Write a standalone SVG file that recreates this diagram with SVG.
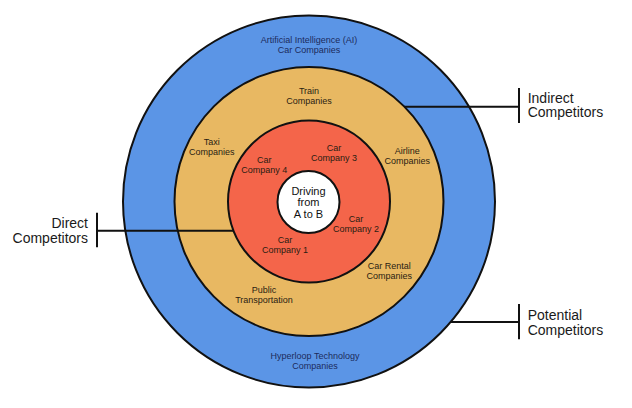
<svg xmlns="http://www.w3.org/2000/svg" width="632" height="408" viewBox="0 0 632 408">
<style>
.ring{stroke:#111;stroke-width:2}
.t{font-family:"Liberation Sans",Arial,sans-serif;font-size:9px;text-anchor:middle;fill:#2a1d12}
.tb{font-family:"Liberation Sans",Arial,sans-serif;font-size:9px;text-anchor:middle;fill:#1c2b5c}
.tc{font-family:"Liberation Sans",Arial,sans-serif;font-size:11px;text-anchor:middle;fill:#111}
.lab{font-family:"Liberation Sans",Arial,sans-serif;font-size:14px;fill:#1a1a1a}
.ln{stroke:#111;stroke-width:2;fill:none}
</style>
<rect width="632" height="408" fill="#fff"/>
<g id="potential">
<circle class="ring" cx="309" cy="201.5" r="186" fill="#5b95e6"/>
<text class="tb" x="309" y="42.7">Artificial Intelligence (AI)</text>
<text class="tb" x="309" y="52.7">Car Companies</text>
<text class="tb" x="315" y="359.3">Hyperloop Technology</text>
<text class="tb" x="315" y="369">Companies</text>
</g>
<g id="indirect">
<circle class="ring" cx="309" cy="201.5" r="134.5" fill="#e8b862"/>
<text class="t" x="309" y="94.3">Train</text>
<text class="t" x="309" y="104.3">Companies</text>
<text class="t" x="211.7" y="145">Taxi</text>
<text class="t" x="211.7" y="155">Companies</text>
<text class="t" x="407.3" y="154">Airline</text>
<text class="t" x="407.3" y="164">Companies</text>
<text class="t" x="389.3" y="269.3">Car Rental</text>
<text class="t" x="389.3" y="278.8">Companies</text>
<text class="t" x="264" y="293.3">Public</text>
<text class="t" x="264" y="302.7">Transportation</text>
</g>
<g id="direct">
<circle class="ring" cx="309" cy="201.5" r="81" fill="#f4654a"/>
<text class="t" x="264.3" y="162.7">Car</text>
<text class="t" x="264.3" y="172.7">Company 4</text>
<text class="t" x="334" y="150.5">Car</text>
<text class="t" x="334" y="160.7">Company 3</text>
<text class="t" x="356" y="221.7">Car</text>
<text class="t" x="356" y="231.7">Company 2</text>
<text class="t" x="285" y="242.7">Car</text>
<text class="t" x="285" y="252.7">Company 1</text>
</g>
<g id="core">
<circle class="ring" cx="308.5" cy="202" r="31" fill="#fff"/>
<text class="tc" x="308.5" y="195">Driving</text>
<text class="tc" x="308.5" y="206.3">from</text>
<text class="tc" x="308.5" y="217.7">A to B</text>
</g>
<g id="connectors">
<path class="ln" d="M97 230.7H233.5M97 212.7V247.3"/>
<path class="ln" d="M404.4 106.7H519M519 88V123"/>
<path class="ln" d="M450.7 322H519M519 304V339.3"/>
</g>
<g id="label-direct">
<text class="lab" x="88" y="227.7" text-anchor="end">Direct</text>
<text class="lab" x="88" y="242.7" text-anchor="end">Competitors</text>
</g>
<g id="label-indirect">
<text class="lab" x="527.7" y="102.5">Indirect</text>
<text class="lab" x="527.7" y="117.3">Competitors</text>
</g>
<g id="label-potential">
<text class="lab" x="527.7" y="319.7">Potential</text>
<text class="lab" x="527.7" y="334.5">Competitors</text>
</g>
</svg>
